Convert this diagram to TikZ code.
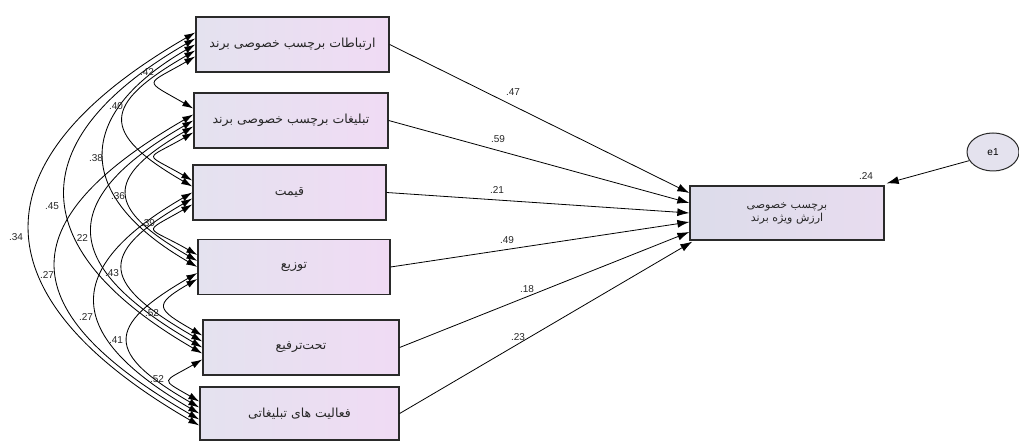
\documentclass[tikz,border=0pt]{standalone}
\usepackage{fontspec}
\setmainfont{Liberation Sans}
\newfontfamily\fa[Script=Arabic]{DejaVu Sans}
\TeXXeTstate=1
\usetikzlibrary{arrows.meta,calc,shapes.geometric}
\definecolor{boxL}{HTML}{E4E2EF}
\definecolor{boxR}{HTML}{F0DBF4}
\definecolor{ybL}{HTML}{DCDCEA}
\definecolor{ybR}{HTML}{E8DCEF}
\definecolor{errc}{HTML}{E4E2EE}
\definecolor{edge}{HTML}{2A2A2A}
\begin{document}
\begin{tikzpicture}[x=1pt,y=1pt,
  var/.style={draw=edge, line width=1.3pt, left color=boxL, right color=boxR,
    minimum height=55pt, inner sep=0pt, font=\fa\fontsize{12.5}{15}\selectfont, text=black!85},
  coef/.style={font=\fontsize{10}{12}\selectfont, inner sep=1pt, text=black!85},
  pth/.style={-{Latex[length=12pt,width=8pt]}, line width=0.8pt},
  cov/.style={{Latex[length=11pt,width=7pt]}-{Latex[length=11pt,width=7pt]}, line width=0.85pt}
]
\useasboundingbox (0,0) rectangle (1019,443);
% exogenous variables
\node[var, minimum width=193pt] (v1) at (292.5,398.5) {\beginR ارتباطات برچسب خصوصی برند\endR};
\node[var, minimum width=194pt] (v2) at (291,322.5) {\beginR تبلیغات برچسب خصوصی برند\endR};
\node[var, minimum width=193pt] (v3) at (289.5,250.5) {\beginR قیمت\endR};
\node[var, minimum width=192pt] (v4) at (294,176) {\beginR توزیع\endR};
\node[var, minimum width=196pt] (v5) at (301,95.5) {\beginR تحت‌ترفیع\endR};
\node[var, minimum width=199pt, minimum height=53pt] (v6) at (299.5,29.5) {\beginR فعالیت های تبلیغاتی\endR};
% endogenous variable
\node[var, left color=ybL, right color=ybR, minimum width=194pt, minimum height=54pt, align=center,
  font=\fa\fontsize{11}{13}\selectfont] (y) at (787,230)
  {\beginR برچسب خصوصی\endR\\\beginR ارزش ویژه برند\endR};
% error
\node[ellipse, draw=edge, line width=1pt, fill=errc, minimum width=52pt, minimum height=38pt,
  font=\fontsize{10}{12}\selectfont] (e1) at (993,291) {e1};
% regression paths
\draw[pth] (v1.east) -- ($(y.west)+(0,20)$);
\draw[pth] (v2.east) -- ($(y.west)+(0,10)$);
\draw[pth] (v3.east) -- ($(y.west)+(0,0)$);
\draw[pth] (v4.east) -- ($(y.west)+(0,-9)$);
\draw[pth] (v5.east) -- ($(y.west)+(0,-19)$);
\draw[pth] (v6.east) -- ($(y.south west)+(3,-1)$);
\draw[pth] (e1.200) -- ($(y.north east)+(2,2)$);
\node[coef] (c1) at (513,351) {.47};
\node[coef] (c2) at (498,304) {.59};
\node[coef] (c3) at (497,253) {.21};
\node[coef] (c4) at (507,203) {.49};
\node[coef] (c5) at (527,154) {.18};
\node[coef] (c6) at (518,106) {.23};
\node[coef] (r2) at (866,267) {.24};
% covariance attach points
\foreach \i in {1,...,6}{
  \foreach \j in {1,...,6}{
    \ifnum\i=\j\else
      \pgfmathtruncatemacro\k{\j<\i ? \i-1-\j : \i-1+6-\j}
      \coordinate (a\i-\j) at ($(v\i.west)+(0,12-6*\k)$);
    \fi
  }
}
\foreach \i/\j/\xl in {1/2/159, 2/3/160, 3/4/158, 4/5/163, 5/6/167,
                       1/3/127, 2/4/129, 3/5/123, 4/6/127,
                       1/4/105, 2/5/92, 3/6/97,
                       1/5/64, 2/6/57, 1/6/30}{
  \pgfmathsetmacro\d{(197-\xl)/(0.75*cos(30))}
  \draw[cov] (a\i-\j) .. controls ($(a\i-\j)+(210:\d)$) and ($(a\j-\i)+(150:\d)$) .. (a\j-\i);
}
% covariance labels
\node[coef] (k12) at (147,371) {.42};
\node[coef] (k13) at (116,337) {.40};
\node[coef] (k14) at (96,285) {.38};
\node[coef] (k24) at (118,247) {.36};
\node[coef] (k15) at (52,237) {.45};
\node[coef] (k34) at (148,220) {.39};
\node[coef] (k25) at (81,205) {.22};
\node[coef] (k16) at (16,206) {.34};
\node[coef] (k35) at (112,170) {.43};
\node[coef] (k26) at (47,168) {.27};
\node[coef] (k36) at (86,126) {.27};
\node[coef] (k45) at (152,130) {.52};
\node[coef] (k46) at (116,103) {.41};
\node[coef] (k56) at (157,64) {.52};
\end{tikzpicture}
\end{document}
